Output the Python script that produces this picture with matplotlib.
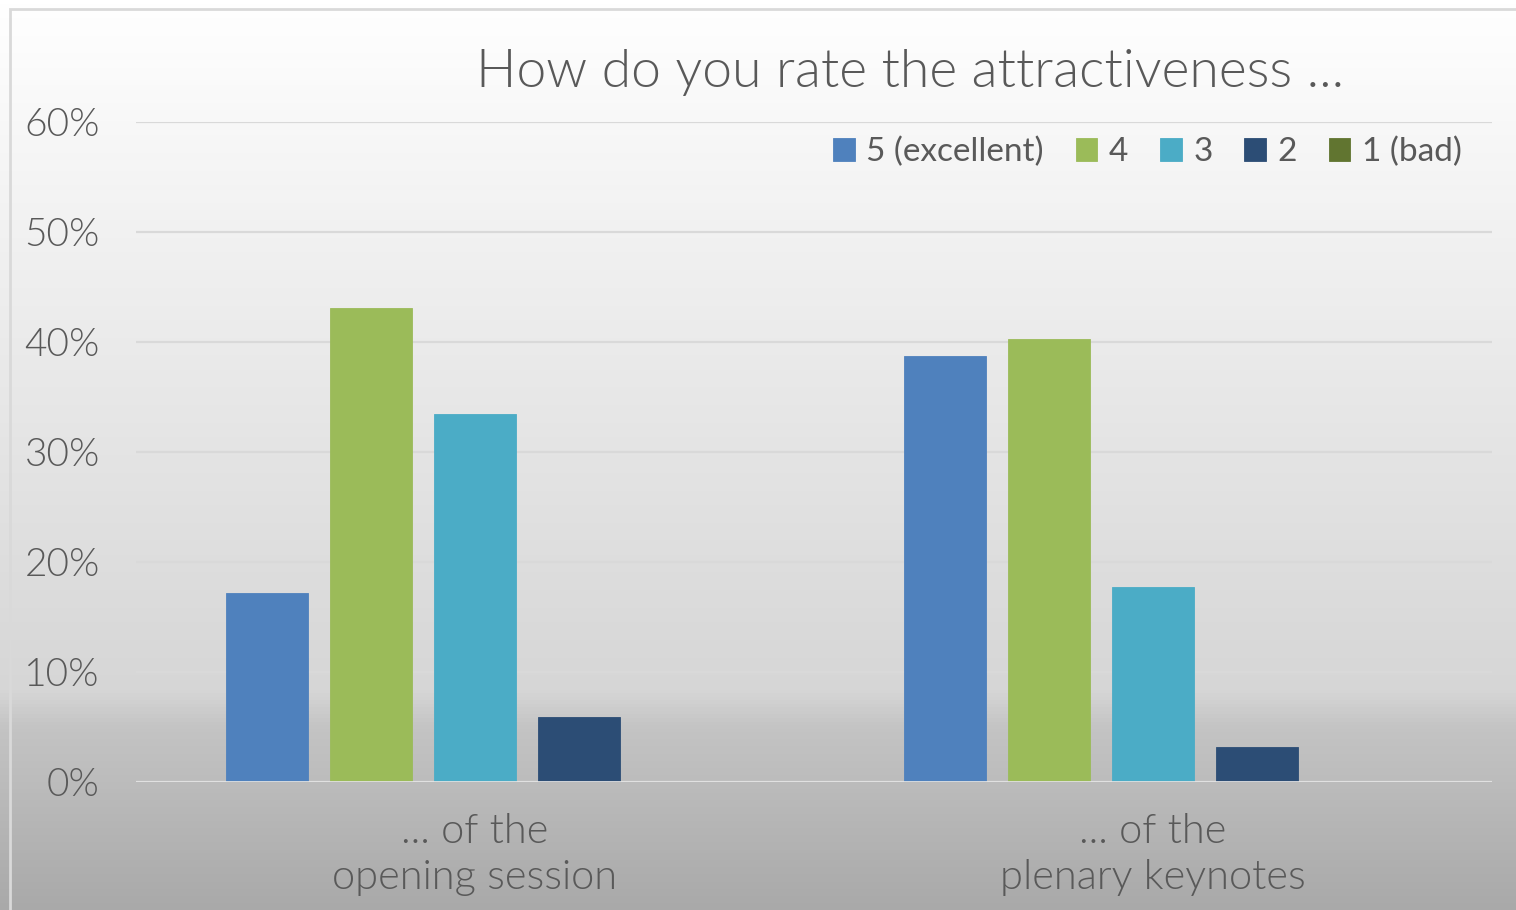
import matplotlib

matplotlib.use("Agg")
import matplotlib.pyplot as plt
import numpy as np
from matplotlib.colors import LinearSegmentedColormap
from matplotlib.patches import Rectangle

categories = ["... of the\nopening session", "... of the\nplenary keynotes"]
series = ["5 (excellent)", "4", "3", "2", "1 (bad)"]
values = {
    "5 (excellent)": [17.2, 38.7],
    "4": [43.1, 40.3],
    "3": [33.5, 17.7],
    "2": [5.9, 3.2],
    "1 (bad)": [0.0, 0.0],
}
colors = ["#4f81bd", "#9bbb59", "#4bacc6", "#2c4d75", "#617530"]
yticks = [0, 10, 20, 30, 40, 50, 60]

W, H = 1516, 910
fig = plt.figure(figsize=(W / 100, H / 100), dpi=100)

# gradient background
bg = fig.add_axes([0, 0, 1, 1], zorder=-2)
cmap = LinearSegmentedColormap.from_list(
    "bg", [(0.0, "#a9a9a9"), (0.2, "#c4c4c4"), (0.24, "#d6d6d6"), (1.0, "#ffffff")])
grad = np.linspace(0, 1, 256).reshape(-1, 1)
bg.imshow(grad, aspect="auto", cmap=cmap, origin="lower", extent=[0, 1, 0, 1])
bg.add_patch(Rectangle((10 / W, -0.01), 1.0, 1 - 9 / H + 0.01, fill=False,
                       edgecolor="#d9d9d9", lw=2, transform=bg.transAxes))
bg.set_axis_off()

ax = fig.add_axes([136 / W, (H - 782) / H, 1356 / W, 660 / H])
ax.set_facecolor("none")
for s in ax.spines.values():
    s.set_visible(False)

x = np.arange(len(categories))
bw = 82 / 678
step = 104 / 678
for i, (name, c) in enumerate(zip(series, colors)):
    ax.bar(x + (i - 2) * step, values[name], width=bw, color=c, label=name,
           edgecolor=c, lw=0.6, zorder=3)

ax.set_xlim(-0.5, 1.5)
ax.set_ylim(0, 60)
ax.set_yticks(yticks)
ax.set_yticklabels([f"{v}%" for v in yticks])
ax.yaxis.grid(True, color="#d9d9d9", lw=1.6, zorder=0)
ax.axhline(0, color="#e2e2e2", lw=2, zorder=4)
ax.tick_params(axis="y", length=0, pad=26, labelsize=28, labelcolor="#595959")
ax.tick_params(axis="x", length=0, pad=22)
ax.set_xticks(x)
ax.set_xticklabels(categories, fontsize=30, color="#595959", linespacing=1.3)
for lbl in ax.get_yticklabels() + ax.get_xticklabels():
    lbl.set_family("Lato")
    lbl.set_fontweight(300)

fig.text(910 / W, 1 - 72 / H, "How do you rate the attractiveness ...",
         ha="center", va="center", fontsize=38.5, color="#595959",
         family="Lato", fontweight=300)

ax.legend(loc="center right", bbox_to_anchor=(1.0, (152 - 122) / -660 + 1),
          ncol=5, frameon=False, handlelength=0.65, handleheight=0.65,
          handletextpad=0.35, columnspacing=0.95, labelcolor="#595959",
          prop={"family": "Lato", "size": 24})

fig.savefig("out.png", dpi=100)
